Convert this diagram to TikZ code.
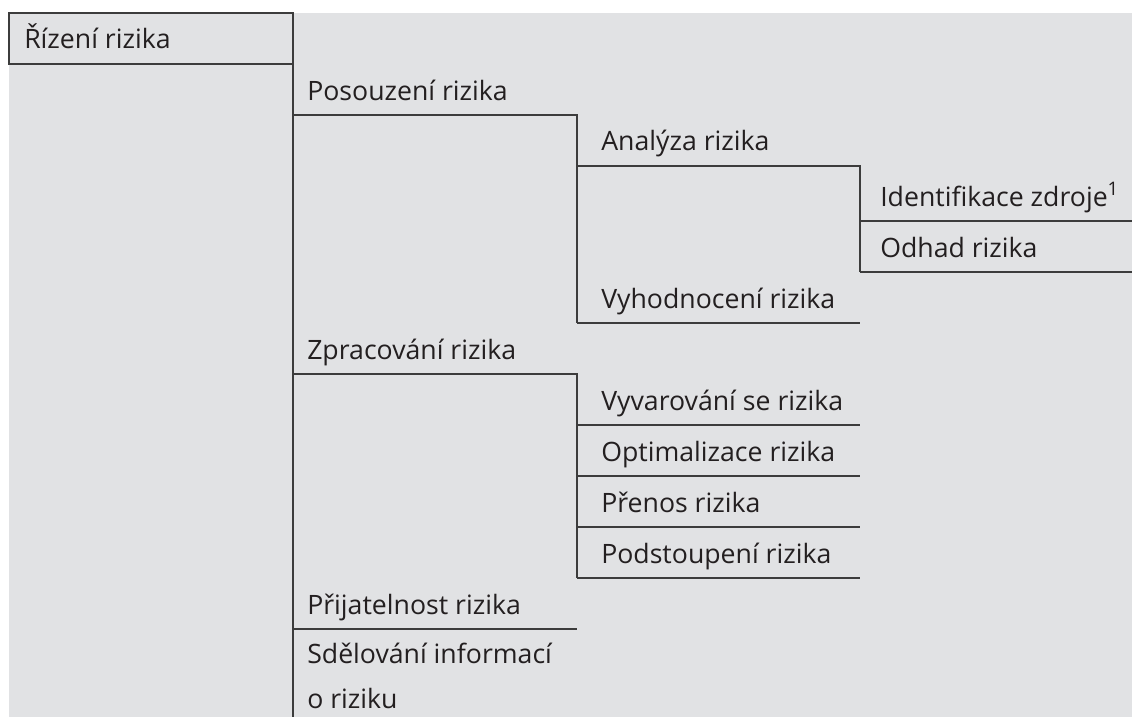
\documentclass[tikz,border=0pt]{standalone}
\usepackage{fontspec}
\setmainfont{Open Sans}
\definecolor{bg}{HTML}{E1E2E4}
\definecolor{ln}{HTML}{3C3C3C}
\definecolor{tx}{HTML}{231F20}
\begin{document}
\begin{tikzpicture}[x=0.75pt,y=-0.75pt,
  lbl/.style={anchor=base west,inner sep=0pt,text=tx,font=\fontsize{20}{24}\selectfont},
  rule/.style={draw=ln,line width=1.1pt}]
\useasboundingbox (0,0) rectangle (1132,717);
\fill[bg] (9,13) rectangle (1132,717);
% text nodes
\node[lbl] (rizeni) at (24,49) {Řízení rizika};
\node[lbl] (posouzeni) at (307,100) {Posouzení rizika};
\node[lbl] (analyza) at (601,151) {Analýza rizika};
\node[lbl] (ident) at (880,206) {Identifikace zdroje\textsuperscript{1}};
\node[lbl] (odhad) at (880,257) {Odhad rizika};
\node[lbl] (vyhod) at (601,308) {Vyhodnocení rizika};
\node[lbl] (zprac) at (307,359) {Zpracování rizika};
\node[lbl] (vyvar) at (601,410) {Vyvarování se rizika};
\node[lbl] (optim) at (601,461) {Optimalizace rizika};
\node[lbl] (prenos) at (601,512) {Přenos rizika};
\node[lbl] (podst) at (601,563) {Podstoupení rizika};
\node[lbl] (prij) at (307,614) {Přijatelnost rizika};
\node[lbl] (sdel) at (307,663) {Sdělování informací};
\node[lbl] (sdel2) at (307,708) {o riziku};
% level 1 box and main vertical
\draw[rule] (293,64) -- (9,64) -- (9,13) -- (293,13) -- (293,717);
% level 2 rules
\draw[rule] (293,115) -- (577,115) -- (577,323);
\draw[rule] (293,374) -- (577,374) -- (577,578);
\draw[rule] (293,629) -- (577,629);
% level 3 rules
\draw[rule] (577,166) -- (860,166) -- (860,272);
\draw[rule] (577,323) -- (860,323);
\draw[rule] (577,425) -- (860,425);
\draw[rule] (577,476) -- (860,476);
\draw[rule] (577,527) -- (860,527);
\draw[rule] (577,578) -- (860,578);
% level 4 rules
\draw[rule] (860,221) -- (1132,221);
\draw[rule] (860,272) -- (1132,272);
\end{tikzpicture}
\end{document}
